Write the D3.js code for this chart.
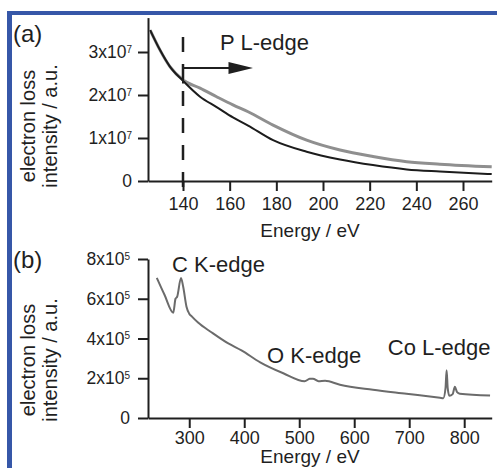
<!DOCTYPE html>
<html>
<head>
<meta charset="utf-8">
<script src="https://cdn.jsdelivr.net/npm/d3@7"></script>
<style>
  body { margin: 0; background: #fff; }
  svg { display: block; font-family: "Liberation Sans", Arial, sans-serif; }
</style>
</head>
<body>
<div id="wrapper"></div>
<script>
// panel (a): P L-edge region
var energyA = [125.9, 130.1, 134.4, 140, 147.3, 154.4, 161.4, 167.9, 178.6, 193, 207.3, 221.4, 235.9, 250.1, 272.3];
var backgroundA = [3.51e7, 3.05e7, 2.66e7, 2.33e7, 1.96e7, 1.72e7, 1.48e7, 1.29e7, 0.95e7, 0.68e7, 0.50e7, 0.37e7, 0.27e7, 0.22e7, 0.16e7];
var measuredA = [3.51e7, 3.05e7, 2.66e7, 2.35e7, 2.16e7, 1.96e7, 1.77e7, 1.61e7, 1.30e7, 0.95e7, 0.72e7, 0.57e7, 0.45e7, 0.39e7, 0.33e7];
var xTicksA = [140, 160, 180, 200, 220, 240, 260];
var yTicksA = [0, 1e7, 2e7, 3e7];
var yTickLabelsA = [["0", ""], ["1x10", "7"], ["2x10", "7"], ["3x10", "7"]];
var edgeA = 140;

// panel (b): wide spectrum
var energyB = [241, 255, 271, 275, 278, 285, 289, 295, 300, 305, 316, 341, 371, 395, 429, 471, 510, 519, 525, 535, 547, 574, 634, 695, 756, 762, 766, 768, 770, 773, 779, 783, 787, 792, 847];
var intensityB = [7.05e5, 6.2e5, 5.3e5, 6.0e5, 6.1e5, 7.05e5, 6.6e5, 5.6e5, 5.25e5, 5.1e5, 4.8e5, 4.3e5, 3.75e5, 3.4e5, 2.8e5, 2.25e5, 1.85e5, 1.97e5, 1.98e5, 1.85e5, 1.87e5, 1.67e5, 1.42e5, 1.22e5, 1.02e5, 1.0e5, 1.5e5, 2.4e5, 1.5e5, 1.12e5, 1.2e5, 1.57e5, 1.3e5, 1.22e5, 1.13e5];
var xTicksB = [300, 400, 500, 600, 700, 800];
var yTicksB = [0, 2e5, 4e5, 6e5, 8e5];
var yTickLabelsB = [["0", ""], ["2x10", "5"], ["4x10", "5"], ["6x10", "5"], ["8x10", "5"]];

var edgeLabelsB = ["C K-edge", "O K-edge", "Co L-edge"];
var edgeLabelEnergyB = [268.6, 441.4, 661];
var edgeLabelValueB = [7.35e5, 2.75e5, 3.15e5];

const width = 497;
const height = 468;
const ink = "#1f1f1f";

const svg = d3.select("#wrapper")
    .append("svg")
    .attr("width", width)
    .attr("height", height);

// blue frame on top and left
svg.append("rect").attr("x", 7).attr("y", 11).attr("width", width - 7).attr("height", 4).attr("fill", "#3657a8");
svg.append("rect").attr("x", 7).attr("y", 11).attr("width", 5).attr("height", height - 11).attr("fill", "#3657a8");

var xA = d3.scaleLinear().domain([125, 272.3]).range([148, 491.7]);
var yA = d3.scaleLinear().domain([0, 3.8e7]).range([181, 17.6]);
var xB = d3.scaleLinear().domain([225, 850]).range([148, 491.7]);
var yB = d3.scaleLinear().domain([0, 8e5]).range([418, 259]);

function styleAxis(g, size) {
    g.select(".domain").attr("stroke", ink).attr("stroke-width", 2);
    g.selectAll(".tick line").attr("stroke", ink).attr("stroke-width", 2);
    g.selectAll(".tick text").attr("fill", ink).style("font-size", size + "px");
}

function yTickText(g, labels) {
    g.selectAll(".tick text").each(function (d, i) {
        var t = d3.select(this).text("");
        t.append("tspan").text(labels[i][0]);
        if (labels[i][1]) {
            t.append("tspan").attr("dy", "-0.55em").style("font-size", "10px").text(labels[i][1]);
        }
    });
}

function yLabel(cx, cy) {
    var g = svg.append("g").attr("transform", "translate(" + cx + "," + cy + ") rotate(-90)");
    g.append("text").attr("x", 0).attr("y", 0).attr("text-anchor", "middle")
        .attr("fill", ink).style("font-size", "20px").text("electron loss");
    g.append("text").attr("x", 0).attr("y", 22).attr("text-anchor", "middle")
        .attr("fill", ink).style("font-size", "20px").text("intensity / a.u.");
}

// ---- panel (a)
svg.append("g")
    .attr("transform", "translate(0,181)")
    .call(d3.axisBottom(xA).tickValues(xTicksA).tickSize(10).tickSizeOuter(0).tickPadding(6))
    .call(g => styleAxis(g, 18));

svg.append("g")
    .attr("transform", "translate(148,0)")
    .call(d3.axisLeft(yA).tickValues(yTicksA).tickSize(10).tickSizeOuter(0).tickPadding(6))
    .call(g => styleAxis(g, 17.5))
    .call(g => yTickText(g, yTickLabelsA));

var lineA = d3.line().curve(d3.curveMonotoneX);

svg.append("path")
    .attr("d", lineA(energyA.map((e, i) => [xA(e), yA(measuredA[i])])))
    .attr("fill", "none").attr("stroke", "#8f8f8f").attr("stroke-width", 3);

svg.append("path")
    .attr("d", lineA(energyA.map((e, i) => [xA(e), yA(backgroundA[i])])))
    .attr("fill", "none").attr("stroke", "#1c1c1c").attr("stroke-width", 2);

// dashed onset line and arrow
svg.append("line")
    .attr("x1", xA(edgeA)).attr("x2", xA(edgeA))
    .attr("y1", yA(3.35e7)).attr("y2", 192)
    .attr("stroke", ink).attr("stroke-width", 2.5).attr("stroke-dasharray", "15,12");

var arrowY = yA(2.63e7);
svg.append("path")
    .attr("d", "M" + xA(edgeA) + "," + yA(2.27e7) + "V" + arrowY + "H" + xA(161))
    .attr("fill", "none").attr("stroke", ink).attr("stroke-width", 2);
svg.append("path")
    .attr("d", "M" + xA(159.5) + "," + (arrowY - 6) + "L" + xA(170) + "," + arrowY + "L" + xA(159.5) + "," + (arrowY + 6) + "Z")
    .attr("fill", ink);

svg.append("text")
    .attr("x", xA(155.9)).attr("y", yA(3.05e7))
    .attr("fill", ink).style("font-size", "22px").text("P L-edge");

svg.append("text").attr("x", 13).attr("y", 42).attr("fill", ink).style("font-size", "24px").text("(a)");
svg.append("text").attr("x", 310).attr("y", 237).attr("text-anchor", "middle")
    .attr("fill", ink).style("font-size", "19px").text("Energy / eV");
yLabel(35, 126);

// ---- panel (b)
svg.append("g")
    .attr("transform", "translate(0,418)")
    .call(d3.axisBottom(xB).tickValues(xTicksB).tickSize(10).tickSizeOuter(0).tickPadding(3))
    .call(g => styleAxis(g, 18));

svg.append("g")
    .attr("transform", "translate(148,0)")
    .call(d3.axisLeft(yB).tickValues(yTicksB).tickSize(10).tickSizeOuter(0).tickPadding(8))
    .call(g => styleAxis(g, 17.5))
    .call(g => yTickText(g, yTickLabelsB));

svg.append("path")
    .attr("d", d3.line().curve(d3.curveMonotoneX)(energyB.map((e, i) => [xB(e), yB(intensityB[i])])))
    .attr("fill", "none").attr("stroke", "#6b6b6b").attr("stroke-width", 2);

svg.append("g").selectAll("text")
    .data(edgeLabelsB)
    .enter()
    .append("text")
    .attr("x", (d, i) => xB(edgeLabelEnergyB[i]))
    .attr("y", (d, i) => yB(edgeLabelValueB[i]))
    .attr("fill", ink).style("font-size", "22px")
    .text(d => d);

svg.append("text").attr("x", 13).attr("y", 268).attr("fill", ink).style("font-size", "24px").text("(b)");
svg.append("text").attr("x", 310).attr("y", 463).attr("text-anchor", "middle")
    .attr("fill", ink).style("font-size", "19px").text("Energy / eV");
yLabel(35, 360);
</script>
</body>
</html>
